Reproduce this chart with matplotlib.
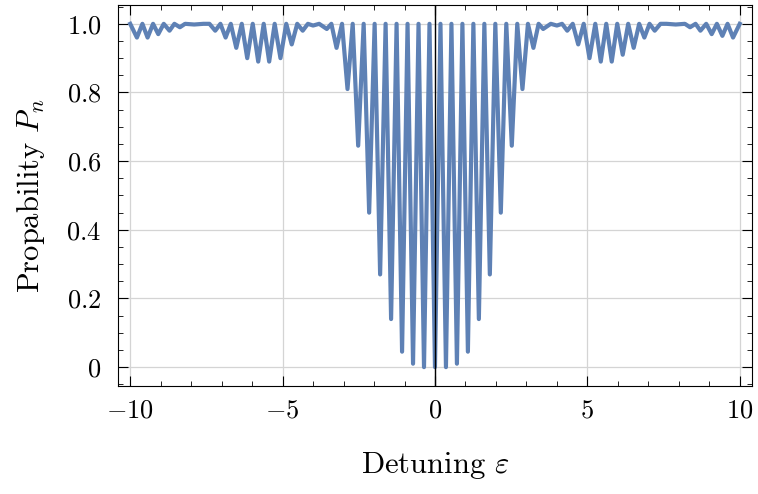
import matplotlib
matplotlib.use("Agg")
import matplotlib.pyplot as plt
from matplotlib.ticker import MultipleLocator, FixedLocator

plt.rcParams['mathtext.fontset'] = 'cm'
plt.rcParams['font.family'] = 'serif'
plt.rcParams['font.serif'] = ['cmr10', 'DejaVu Serif']
plt.rcParams['axes.unicode_minus'] = False

# Vertices of the curve (peaks and dips), left to right
epsilon = [-10.0, -9.78, -9.6, -9.43, -9.25, -9.08, -8.9, -8.71, -8.55, -8.37, -8.2,
           -7.9, -7.6, -7.4, -7.21, -7.04, -6.87, -6.7, -6.52, -6.34, -6.16, -5.98,
           -5.80, -5.62, -5.44, -5.26, -5.07, -4.88, -4.70, -4.52, -4.34, -4.17,
           -4.0, -3.8, -3.55, -3.4, -3.23, -3.05, -2.87, -2.70, -2.52, -2.34, -2.16,
           -1.98, -1.80, -1.62, -1.44, -1.26, -1.08, -0.90, -0.72, -0.54, -0.36,
           -0.18, 0.0,
           0.18, 0.36, 0.54, 0.72, 0.90, 1.08, 1.26, 1.44, 1.62, 1.80, 1.98, 2.16,
           2.34, 2.52, 2.70, 2.87, 3.05, 3.23, 3.4, 3.55, 3.8, 4.0, 4.17, 4.34,
           4.52, 4.70, 4.88, 5.07, 5.26, 5.44, 5.62, 5.80, 5.98, 6.16, 6.34, 6.52,
           6.7, 6.87, 7.04, 7.21, 7.4, 7.6, 7.9, 8.2, 8.37, 8.55, 8.71, 8.9, 9.08,
           9.25, 9.43, 9.6, 9.78, 10.0]
prob = [1.0, 0.96, 1.0, 0.96, 1.0, 0.97, 1.0, 0.98, 1.0, 0.99, 1.0,
        0.998, 1.0, 1.0, 0.98, 1.0, 0.96, 1.0, 0.93, 1.0, 0.90, 1.0,
        0.89, 1.0, 0.89, 1.0, 0.90, 1.0, 0.94, 1.0, 0.98, 1.0,
        0.995, 1.0, 0.985, 1.0, 0.93, 1.0, 0.81, 1.0, 0.645, 1.0, 0.45,
        1.0, 0.27, 1.0, 0.14, 1.0, 0.045, 1.0, 0.01, 1.0, 0.0,
        1.0, 0.0,
        1.0, 0.0, 1.0, 0.01, 1.0, 0.045, 1.0, 0.14, 1.0, 0.27, 1.0, 0.45,
        1.0, 0.645, 1.0, 0.81, 1.0, 0.93, 1.0, 0.985, 1.0, 0.995, 1.0, 0.98,
        1.0, 0.94, 1.0, 0.90, 1.0, 0.89, 1.0, 0.89, 1.0, 0.91, 1.0, 0.93,
        1.0, 0.96, 1.0, 0.98, 1.0, 1.0, 0.998, 1.0, 0.99, 1.0, 0.98, 1.0, 0.97,
        1.0, 0.965, 1.0, 0.96, 1.0]

x_ticks = [-10, -5, 0, 5, 10]
x_labels = [r'$-10$', r'$-5$', r'$0$', r'$5$', r'$10$']
y_ticks = [0, 0.2, 0.4, 0.6, 0.8, 1.0]
y_labels = [r'$0$', r'$0.2$', r'$0.4$', r'$0.6$', r'$0.8$', r'$1.0$']

fig = plt.figure(figsize=(7.58, 4.94), dpi=100)
ax = fig.add_axes([0.1557, 0.2186, 0.8363, 0.7714])

ax.plot(epsilon, prob, color='#5e81b5', lw=3.0, solid_joinstyle='round', zorder=3)
ax.axvline(0, color='black', lw=1.0, zorder=4)

ax.set_xlim(-10.4, 10.4)
ax.set_ylim(-0.055, 1.055)

ax.xaxis.set_major_locator(FixedLocator(x_ticks))
ax.set_xticklabels(x_labels)
ax.xaxis.set_minor_locator(MultipleLocator(1))
ax.yaxis.set_major_locator(FixedLocator(y_ticks))
ax.set_yticklabels(y_labels)
ax.yaxis.set_minor_locator(MultipleLocator(0.05))

ax.grid(True, which='major', color='#d4d4d4', lw=0.9, zorder=0)
ax.tick_params(which='both', direction='in', top=True, right=True, labelsize=19)
ax.tick_params(which='major', length=7, width=0.8)
ax.tick_params(which='minor', length=3.5, width=0.6)
ax.tick_params(axis='x', pad=9)
ax.tick_params(axis='y', pad=12)
for s in ax.spines.values():
    s.set_linewidth(0.8)

ax.set_xlabel(r'Detuning $\varepsilon$', fontsize=22, labelpad=20)
ax.set_ylabel(r'Propability $P_n$', fontsize=22, labelpad=14)

fig.savefig('out.png', dpi=100)
